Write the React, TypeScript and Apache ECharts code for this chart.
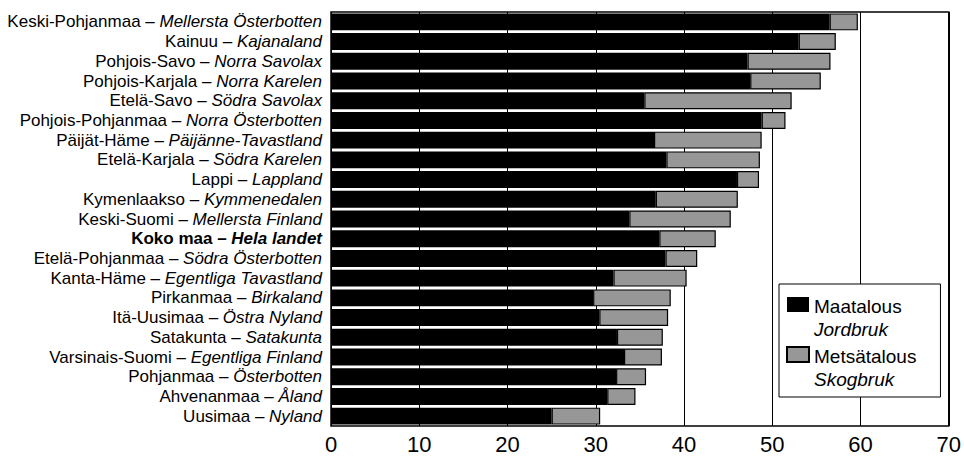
import React, { useEffect, useRef } from "react";
import * as echarts from "echarts";

const regionsFi = [
  "Keski-Pohjanmaa", "Kainuu", "Pohjois-Savo", "Pohjois-Karjala", "Etelä-Savo",
  "Pohjois-Pohjanmaa", "Päijät-Häme", "Etelä-Karjala", "Lappi", "Kymenlaakso",
  "Keski-Suomi", "Koko maa", "Etelä-Pohjanmaa", "Kanta-Häme", "Pirkanmaa",
  "Itä-Uusimaa", "Satakunta", "Varsinais-Suomi", "Pohjanmaa", "Ahvenanmaa", "Uusimaa",
];
const regionsSv = [
  "Mellersta Österbotten", "Kajanaland", "Norra Savolax", "Norra Karelen", "Södra Savolax",
  "Norra Österbotten", "Päijänne-Tavastland", "Södra Karelen", "Lappland", "Kymmenedalen",
  "Mellersta Finland", "Hela landet", "Södra Österbotten", "Egentliga Tavastland", "Birkaland",
  "Östra Nyland", "Satakunta", "Egentliga Finland", "Österbotten", "Åland", "Nyland",
];
const maatalous = [
  56.5, 53.0, 47.2, 47.5, 35.5, 48.8, 36.6, 38.0, 46.0, 36.8,
  33.8, 37.2, 37.9, 32.0, 29.7, 30.4, 32.4, 33.2, 32.3, 31.3, 25.0,
];
const metsatalous = [
  3.2, 4.2, 9.4, 8.0, 16.7, 2.7, 12.2, 10.6, 2.5, 9.3,
  11.5, 6.4, 3.6, 8.3, 8.8, 7.8, 5.2, 4.3, 3.4, 3.2, 5.5,
];
const seriesNames = ["Maatalous", "Metsätalous"];
const seriesNamesSv = ["Jordbruk", "Skogbruk"];
const totalRow = "Koko maa";

const FONT = "'Liberation Sans', Arial, Helvetica, sans-serif";
const LEGEND_ICON = "path://M0,0L0,0M0,2H22V17H0ZM0,46L0,46";

export default function App() {
  const ref = useRef<HTMLDivElement>(null);
  useEffect(() => {
    if (!ref.current) return;
    const chart = echarts.init(ref.current, null, { renderer: "svg" });
    const categories = regionsFi.map((fi, i) => `${fi} – ${regionsSv[i]}`);
    chart.setOption({
      animation: false,
      backgroundColor: "#fff",
      grid: {
        left: 331,
        right: 12,
        top: 12,
        bottom: 30,
        show: true,
        borderColor: "#000",
        borderWidth: 1.5,
        backgroundColor: "transparent",
      },
      legend: {
        orient: "vertical",
        left: 779,
        top: 284,
        itemWidth: 22,
        itemHeight: 46,
        itemGap: 3,
        padding: [11, 24, 5, 7],
        backgroundColor: "#fff",
        borderColor: "#000",
        borderWidth: 1,
        borderRadius: 0,
        icon: LEGEND_ICON,
        data: seriesNames,
        formatter: (name: string) => {
          const i = seriesNames.indexOf(name);
          return `{a|${name}}\n{b|${seriesNamesSv[i]}}`;
        },
        textStyle: {
          fontFamily: FONT,
          color: "#000",
          rich: {
            a: { fontSize: 19, lineHeight: 23, fontFamily: FONT, color: "#000" },
            b: { fontSize: 19, lineHeight: 23, fontFamily: FONT, fontStyle: "italic", color: "#000" },
          },
        },
      },
      xAxis: {
        type: "value",
        min: 0,
        max: 70,
        interval: 10,
        axisLine: { show: false },
        axisTick: { show: false },
        splitLine: { show: true, lineStyle: { color: "#000", width: 1 } },
        axisLabel: {
          margin: 7,
          color: "#000",
          fontSize: 22,
          fontFamily: "'Liberation Sans Narrow', 'Arial Narrow', " + FONT,
        },
      },
      yAxis: {
        type: "category",
        inverse: true,
        data: categories,
        axisLine: { show: false },
        axisTick: { show: false },
        axisLabel: {
          interval: 0,
          margin: 9,
          color: "#000",
          fontFamily: FONT,
          fontSize: 17,
          formatter: (value: string) => {
            const [fi, sv] = value.split(" – ");
            if (fi === totalRow) return `{fb|${fi} – }{sb|${sv}}`;
            return `{f|${fi} – }{s|${sv}}`;
          },
          rich: {
            f: { fontSize: 17, fontFamily: FONT, color: "#000" },
            s: { fontSize: 17, fontFamily: FONT, fontStyle: "italic", color: "#000" },
            fb: { fontSize: 17, fontFamily: FONT, fontWeight: "bold", color: "#000" },
            sb: { fontSize: 17, fontFamily: FONT, fontWeight: "bold", fontStyle: "italic", color: "#000" },
          },
        },
      },
      series: [
        {
          name: seriesNames[0],
          type: "bar",
          stack: "total",
          data: maatalous,
          barCategoryGap: "14%",
          itemStyle: { color: "#000", borderColor: "#000", borderWidth: 0 },
          emphasis: { disabled: true },
        },
        {
          name: seriesNames[1],
          type: "bar",
          stack: "total",
          data: metsatalous,
          barCategoryGap: "14%",
          itemStyle: { color: "#979797", borderColor: "#000", borderWidth: 1.2 },
          emphasis: { disabled: true },
        },
      ],
    });
    return () => chart.dispose();
  }, []);
  return (
    <div
      ref={ref}
      style={{ position: "fixed", left: 0, top: 0, width: 964, height: 456, background: "#fff" }}
    />
  );
}
